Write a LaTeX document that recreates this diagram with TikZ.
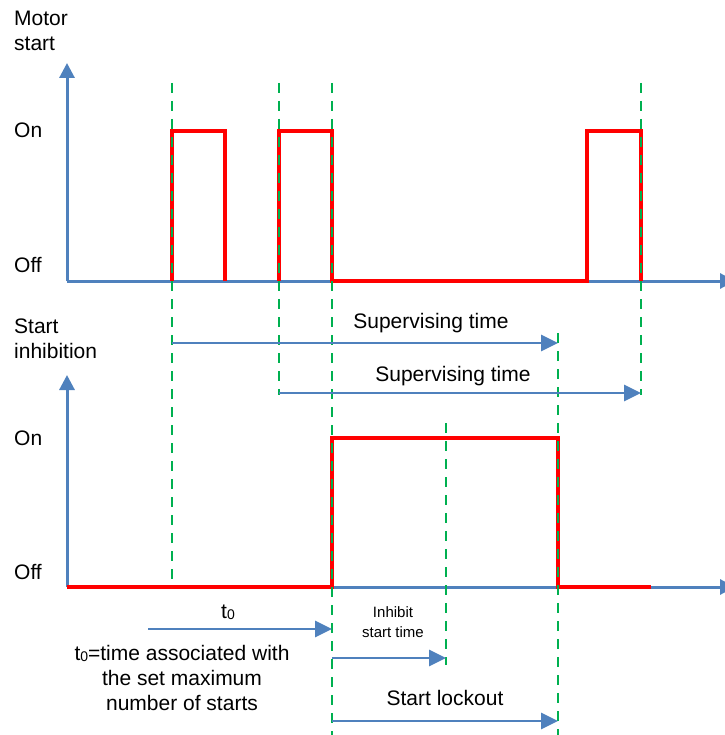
\documentclass[tikz,border=0pt]{standalone}
\usepackage{fontspec}
\setmainfont{Liberation Sans}
\usepackage{xcolor}
\usetikzlibrary{arrows.meta, positioning}

\definecolor{axisblue}{HTML}{4F81BD}
\definecolor{sigred}{HTML}{FF0000}
\definecolor{markgreen}{HTML}{00B050}

\newcommand{\tzero}{t\raisebox{-1pt}{\fontsize{14}{14}\selectfont 0}}

\begin{document}
\begin{tikzpicture}[x=1pt, y=-1pt,
    axis/.style={draw=axisblue, line width=3pt, -{Triangle[length=15pt, width=15pt]}},
    span/.style={draw=axisblue, line width=2.8pt, -{Triangle[length=17pt, width=16pt]}},
    signal/.style={draw=sigred, line width=4.4pt, line join=miter},
    marker/.style={draw=markgreen, line width=2.6pt, dash pattern=on 10pt off 8pt},
    lbl/.style={font=\fontsize{21}{25}\selectfont, inner sep=0pt, align=left},
    small/.style={font=\fontsize{15}{20}\selectfont, inner sep=0pt, align=center}]
    \useasboundingbox (0,0) rectangle (724,735);

    % Axes
    \coordinate (o1) at (67,281);
    \coordinate (o2) at (67,587);
    \draw[axis] (o1) -- (67,63);
    \draw[axis] (o1) -- (735,281);
    \draw[axis] (o2) -- (67,375);
    \draw[axis] (o2) -- (735,587);

    % Axis labels
    \node (motor) [lbl, anchor=west] at (14,31) {Motor\\start};
    \node (on1) [lbl, anchor=west] at (14,130) {On};
    \node (off1) [lbl, anchor=west] at (14,265) {Off};
    \node (inhib) [lbl, anchor=west] at (14,339) {Start\\inhibition};
    \node (on2) [lbl, anchor=west] at (14,438) {On};
    \node (off2) [lbl, anchor=west] at (14,572) {Off};

    % Signals
    \draw[signal] (172,281) -- (172,131) -- (225,131) -- (225,281);
    \draw[signal] (279,281) -- (279,131) -- (332,131) -- (332,281) -- (587,281)
                  -- (587,131) -- (641,131) -- (641,281);
    \draw[signal] (o2) -- (332,587) -- (332,438) -- (558,438) -- (558,587) -- (651,587);

    % Markers
    \foreach \x/\ya/\yb in {172/83/587, 279/83/395, 332/83/735, 641/83/395,
                            558/333/735, 446/423/665}
        \draw[marker] (\x,\ya) -- (\x,\yb);

    % Time spans
    \coordinate (sv1s) at (172,343);
    \coordinate (sv1e) at (558,343);
    \coordinate (sv2s) at (279,393);
    \coordinate (sv2e) at (641,393);
    \coordinate (t0s) at (148,629);
    \coordinate (t0e) at (332,629);
    \coordinate (ins) at (332,658);
    \coordinate (ine) at (446,658);
    \coordinate (los) at (332,721);
    \coordinate (loe) at (558,721);
    \draw[span] (sv1s) -- (sv1e);
    \draw[span] (sv2s) -- (sv2e);
    \draw[span] (t0s) -- (t0e);
    \draw[span] (ins) -- (ine);
    \draw[span] (los) -- (loe);

    % Span labels
    \node (sv1lbl) [lbl] at (431,323) {Supervising time};
    \node (sv2lbl) [lbl] at (453,376) {Supervising time};
    \node (t0lbl) [lbl] at (228,612) {\tzero};
    \node (t0note) [lbl, align=center] at (182,678) {\tzero=time associated with\\the set maximum\\number of starts};
    \node (inlbl) [small] at (393,622) {Inhibit\\start time};
    \node (lolbl) [lbl] at (445,698) {Start lockout};
\end{tikzpicture}
\end{document}
